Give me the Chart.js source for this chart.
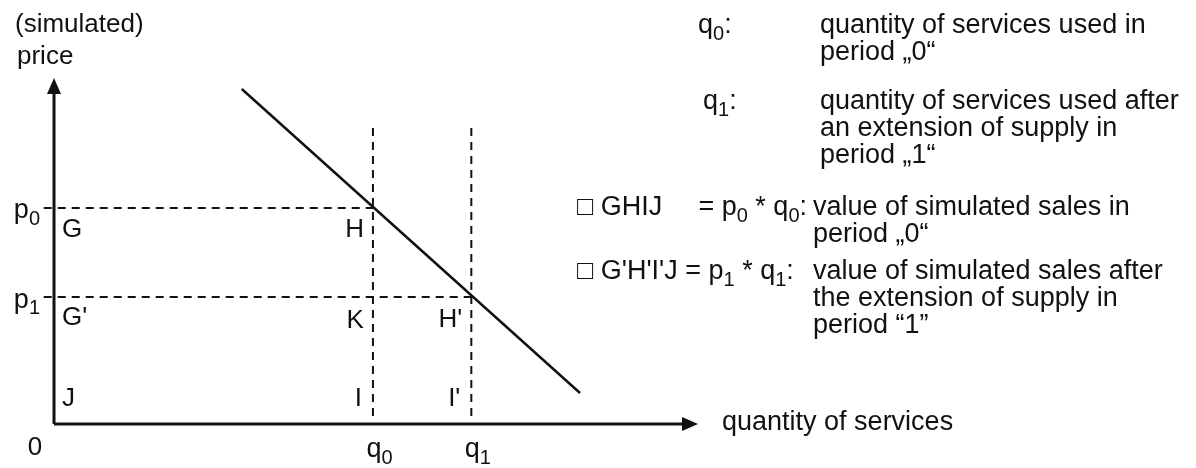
<!DOCTYPE html>
<html>
<head>
<meta charset="utf-8">
<title>Simulated price and quantity of services</title>
<script src="https://cdn.jsdelivr.net/npm/chart.js@4/dist/chart.umd.min.js"></script>
<style>
    html, body { margin: 0; padding: 0; background: #fff; }
    #wrap { position: relative; width: 1196px; height: 468px; }
</style>
</head>
<body>
<div id="wrap"><canvas id="chart"></canvas></div>
<script>
// Values (axis units, arrow tips at 10)
const axisEnd = [10, 10];            // x, y arrow tips
const quantities = [4.96, 6.49];     // q0, q1
const prices = [6.26, 3.68];         // p0, p1
const demandX = [2.92, 8.18];
const demandY = [9.71, 0.90];
const guideTop = 8.61;               // upper end of the dashed verticals
const guideBottom = 0.23;
const guideLeft = -0.16;

const axisTitles = ['(simulated)', 'price', 'quantity of services'];
const cornerLabels = ['G', 'H', "G'", 'K', "H'", 'J', 'I', "I'"];

const notes = [
    { term: [['q', 0], ['0', 1], [':', 0]], lines: ['quantity of services used in', 'period \u201E0\u201C'] },
    { term: [['q', 0], ['1', 1], [':', 0]], lines: ['quantity of services used after', 'an extension of supply in', 'period \u201E1\u201C'] },
    { box: '\u25A1 GHIJ', term: [['= p', 0], ['0', 1], [' * q', 0], ['0', 1], [':', 0]], lines: ['value of simulated sales in', 'period \u201E0\u201C'] },
    { term: [["\u25A1 G'H'I'J = p", 0], ['1', 1], [' * q', 0], ['1', 1], [':', 0]], lines: ['value of simulated sales after', 'the extension of supply in', 'period \u201C1\u201D'] }
];

const FONT = '27px "Liberation Sans", Arial, sans-serif';
const SUB_FONT = '20px "Liberation Sans", Arial, sans-serif';
const LABEL_FONT = '26px "Liberation Sans", Arial, sans-serif';
const INK = '#111';

function seg(x1, y1, x2, y2) { return [{ x: x1, y: y1 }, { x: x2, y: y2 }]; }

function textWidth(ctx, parts) {
    let w = 0;
    parts.forEach(p => { ctx.font = p[1] ? SUB_FONT : FONT; w += ctx.measureText(p[0]).width; });
    return w;
}

function drawRich(ctx, parts, x, y, align) {
    const w = textWidth(ctx, parts);
    let cx = align === 'right' ? x - w : align === 'center' ? x - w / 2 : x;
    ctx.textAlign = 'left';
    parts.forEach(p => {
        ctx.font = p[1] ? SUB_FONT : FONT;
        ctx.fillText(p[0], cx, p[1] ? y + 8 : y);
        cx += ctx.measureText(p[0]).width;
    });
}

function drawText(ctx, s, x, y, align, font) {
    ctx.font = font || FONT;
    ctx.textAlign = align || 'left';
    ctx.fillText(s, x, y);
}

const annotations = {
    id: 'annotations',
    afterDatasetsDraw(chart) {
        const ctx = chart.ctx;
        const xs = chart.scales.x, ys = chart.scales.y;
        const px = v => xs.getPixelForValue(v), py = v => ys.getPixelForValue(v);
        const ox = px(0), oy = py(0);
        const q0 = px(quantities[0]), q1 = px(quantities[1]);
        const p0 = py(prices[0]), p1 = py(prices[1]);

        ctx.save();
        ctx.fillStyle = INK;

        // arrow heads on the axis ends
        const tx = px(axisEnd[0]), ty = py(axisEnd[1]);
        ctx.beginPath();
        ctx.moveTo(tx + 1, oy); ctx.lineTo(tx - 15, oy - 7); ctx.lineTo(tx - 15, oy + 7); ctx.closePath();
        ctx.fill();
        ctx.beginPath();
        ctx.moveTo(ox, ty - 1); ctx.lineTo(ox - 7, ty + 15); ctx.lineTo(ox + 7, ty + 15); ctx.closePath();
        ctx.fill();

        ctx.textBaseline = 'middle';

        // axis titles
        drawText(ctx, axisTitles[0], 15, 25, 'left', LABEL_FONT);
        drawText(ctx, axisTitles[1], 17, 57, 'left', LABEL_FONT);
        drawText(ctx, axisTitles[2], tx + 25, oy - 1);

        // origin and tick labels
        drawText(ctx, '0', ox - 19, oy + 24, 'center', LABEL_FONT);
        drawRich(ctx, [['p', 0], ['0', 1]], ox - 14, p0 + 3, 'right');
        drawRich(ctx, [['p', 0], ['1', 1]], ox - 14, p1 + 3, 'right');
        ctx.font = FONT;
        const qw = ctx.measureText('q').width;
        drawRich(ctx, [['q', 0], ['0', 1]], q0 - qw / 2 + 1, oy + 26, 'left');
        drawRich(ctx, [['q', 0], ['1', 1]], q1 - qw / 2 + 1, oy + 26, 'left');

        // corner letters of the two rectangles
        const spots = [
            [ox + 8, p0 + 22, 'left'], [q0 - 9, p0 + 22, 'right'],
            [ox + 8, p1 + 21, 'left'], [q0 - 9, p1 + 24, 'right'], [q1 - 9, p1 + 23, 'right'],
            [ox + 8, oy - 25, 'left'], [q0 - 11, oy - 25, 'right'], [q1 - 11, oy - 25, 'right']
        ];
        cornerLabels.forEach((s, i) => drawText(ctx, s, spots[i][0], spots[i][1], spots[i][2], LABEL_FONT));

        // notes on the right
        const termX = [698, 703, 807, 577];
        const termAlign = ['left', 'left', 'right', 'left'];
        const lineX = [820, 820, 813, 813];
        const rowY = [26, 102, 208, 272];
        notes.forEach((n, i) => {
            drawRich(ctx, n.term, termX[i], rowY[i], termAlign[i]);
            if (n.box) drawText(ctx, n.box, 577, rowY[i]);
            n.lines.forEach((l, j) => drawText(ctx, l, lineX[i], rowY[i] + j * 27));
        });
        ctx.restore();
    }
};

const solid = { borderColor: INK, pointRadius: 0, showLine: true, fill: false, tension: 0 };
const dashed = Object.assign({}, solid, { borderWidth: 2, borderDash: [8, 6] });

new Chart(document.getElementById('chart'), {
    type: 'scatter',
    data: {
        datasets: [
            Object.assign({ label: 'quantity axis', data: seg(0, 0, axisEnd[0] - 0.2, 0), borderWidth: 3 }, solid),
            Object.assign({ label: 'price axis', data: seg(0, 0, 0, axisEnd[1] - 0.3), borderWidth: 3 }, solid),
            Object.assign({ label: 'demand', data: seg(demandX[0], demandY[0], demandX[1], demandY[1]), borderWidth: 2.5 }, solid),
            Object.assign({ label: 'p0', data: seg(guideLeft, prices[0], quantities[0], prices[0]) }, dashed),
            Object.assign({ label: 'p1', data: seg(guideLeft, prices[1], quantities[1], prices[1]) }, dashed),
            Object.assign({ label: 'q0', data: seg(quantities[0], guideBottom, quantities[0], guideTop) }, dashed),
            Object.assign({ label: 'q1', data: seg(quantities[1], guideBottom, quantities[1], guideTop) }, dashed)
        ]
    },
    options: {
        responsive: true,
        maintainAspectRatio: false,
        devicePixelRatio: 1,
        animation: false,
        layout: { padding: 0 },
        plugins: { legend: { display: false }, tooltip: { enabled: false } },
        scales: {
            x: { type: 'linear', min: -0.84, max: 17.76, display: false },
            y: { type: 'linear', min: -1.275, max: 12.29, display: false }
        }
    },
    plugins: [annotations]
});
</script>
</body>
</html>
